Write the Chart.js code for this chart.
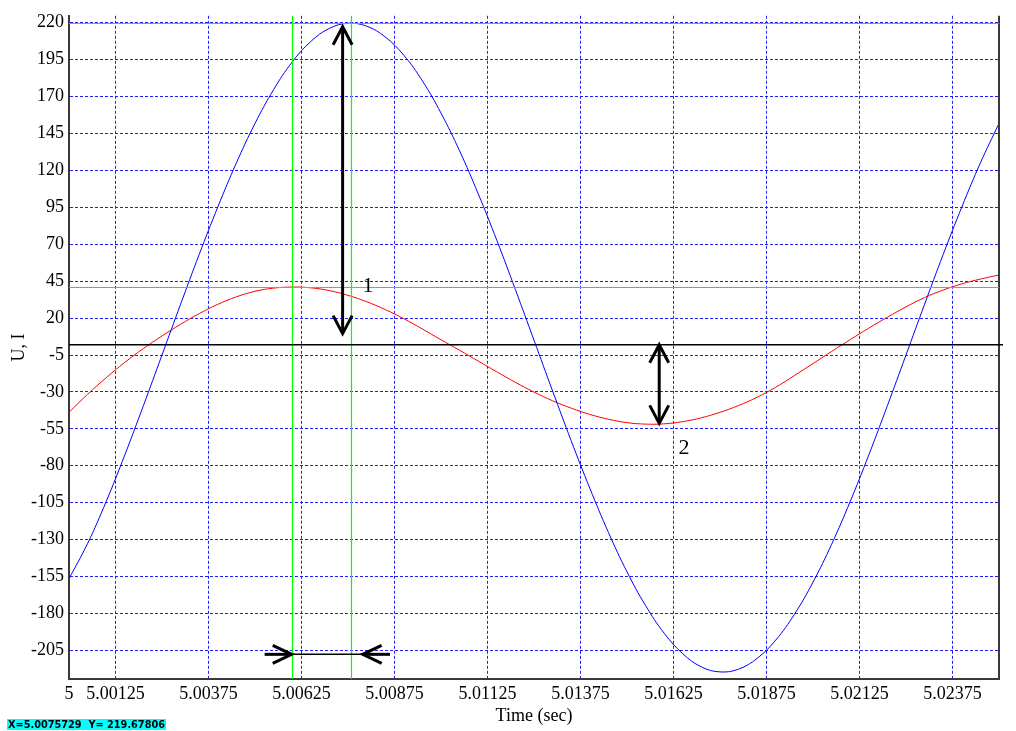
<!DOCTYPE html>
<html>
<head>
<meta charset="utf-8">
<title>U, I</title>
<script src="https://cdn.jsdelivr.net/npm/chart.js@4/dist/chart.umd.min.js"></script>
<style>
  html, body { margin: 0; padding: 0; background: #ffffff; }
  #wrap { position: relative; width: 1016px; height: 731px; }
</style>
</head>
<body>
<div id="wrap"><canvas id="chart" width="1016" height="731"></canvas></div>
<script>
// Sample instants (s)
const times = [
  5.0000, 5.0005, 5.0010, 5.0015, 5.0020, 5.0025, 5.0030, 5.0035, 5.0040, 5.0045,
  5.0050, 5.0055, 5.0060, 5.0065, 5.0070, 5.0075, 5.0080, 5.0085, 5.0090, 5.0095,
  5.0100, 5.0105, 5.0110, 5.0115, 5.0120, 5.0125, 5.0130, 5.0135, 5.0140, 5.0145,
  5.0150, 5.0155, 5.0160, 5.0165, 5.0170, 5.0175, 5.0180, 5.0185, 5.0190, 5.0195,
  5.0200, 5.0205, 5.0210, 5.0215, 5.0220, 5.0225, 5.0230, 5.0235, 5.0240, 5.0245,
  5.0250
];

// Voltage U (blue)
const voltage = [
  -156.5, -132.6, -104.2, -72.7, -39.3, -5.0, 29.4, 63.1, 95.2, 125.1,
  151.8, 174.7, 193.4, 207.3, 216.2, 219.6, 217.7, 210.4, 198.0, 180.6,
  158.8, 133.2, 104.2, 72.7, 39.3, 5.0, -29.4, -63.1, -95.2, -125.1,
  -151.8, -174.7, -193.4, -207.3, -216.2, -219.6, -217.7, -210.4, -198.0, -180.6,
  -158.8, -133.2, -104.2, -72.7, -39.3, -5.0, 29.4, 63.1, 95.2, 125.1,
  151.8
];

// Current I (red)
const current = [
  -43.8, -31.6, -20.4, -10.0, -0.6, 7.9, 15.8, 23.0, 29.3, 34.4,
  38.1, 40.3, 41.0, 40.5, 38.6, 35.4, 31.1, 25.8, 19.6, 12.6,
  5.3, -1.8, -9.1, -16.4, -23.5, -30.1, -36.0, -41.0, -45.2, -48.5,
  -50.8, -51.8, -51.6, -50.1, -47.5, -43.8, -39.2, -33.6, -26.8, -18.9,
  -10.8, -2.6, 5.4, 13.2, 20.6, 27.6, 33.9, 39.0, 43.2, 46.4,
  49.2
];

// Axis ticks
const xTickLabels = ['5', '5.00125', '5.00375', '5.00625', '5.00875', '5.01125',
                     '5.01375', '5.01625', '5.01875', '5.02125', '5.02375'];
const yTickValues = [220, 195, 170, 145, 120, 95, 70, 45, 20, -5, -30, -55,
                     -80, -105, -130, -155, -180, -205];

// Measurement cursors (green) and reference level (black)
const cursorTimes = [5.005987, 5.0075729];
const cursorLevels = [41.0, 219.67806];
const referenceLevel = 1.9;

// Annotation arrows: [time, from, to] and [level, from, to]
const voltageArrow = [5.007355, 217.3, 9.5];
const currentArrow = [5.015866, 1.9, -51.3];
const periodArrow = [-207.7, 5.005987, 5.007894];
const periodTails = [5.005259, 5.008630];

// Annotation labels: [text, time, level]
const marks = [['1', 5.008037, 41.7], ['2', 5.016532, -68.4]];

const readout = 'X=5.0075729  Y= 219.67806';

const SERIF = '"Liberation Serif", "Times New Roman", serif';

function arrowHead(ctx, tx, ty, dx, dy, len, half) {
  // (dx, dy): unit vector from the tip towards the shaft
  const px = -dy, py = dx;
  ctx.beginPath();
  ctx.moveTo(tx + dx * len + px * half, ty + dy * len + py * half);
  ctx.lineTo(tx, ty);
  ctx.lineTo(tx + dx * len - px * half, ty + dy * len - py * half);
  ctx.stroke();
}

const overlay = {
  id: 'overlay',
  afterDatasetsDraw(chart) {
    const { ctx, chartArea: a, scales: { x, y } } = chart;
    ctx.save();
    ctx.setLineDash([]);

    // right frame line
    ctx.strokeStyle = '#3a3a3a';
    ctx.lineWidth = 2;
    ctx.beginPath();
    ctx.moveTo(a.right, a.top);
    ctx.lineTo(a.right, a.bottom);
    ctx.stroke();

    // cursors
    ctx.strokeStyle = '#00ff00';
    ctx.lineWidth = 1.2;
    cursorTimes.forEach(t => {
      const px = Math.round(x.getPixelForValue(t)) + 0.5;
      ctx.beginPath(); ctx.moveTo(px, a.top); ctx.lineTo(px, a.bottom); ctx.stroke();
    });
    cursorLevels.forEach(v => {
      const py = Math.round(y.getPixelForValue(v)) + 0.5;
      ctx.beginPath(); ctx.moveTo(a.left, py); ctx.lineTo(a.right, py); ctx.stroke();
    });

    // reference level
    ctx.strokeStyle = '#000000';
    ctx.lineWidth = 1.5;
    const ry = y.getPixelForValue(referenceLevel);
    ctx.beginPath(); ctx.moveTo(a.left, ry); ctx.lineTo(a.right + 4, ry); ctx.stroke();

    // vertical double arrows
    ctx.lineWidth = 3;
    ctx.lineCap = 'butt';
    ctx.lineJoin = 'miter';
    [voltageArrow, currentArrow].forEach(([t, v1, v2]) => {
      const px = x.getPixelForValue(t);
      const y1 = y.getPixelForValue(v1), y2 = y.getPixelForValue(v2);
      ctx.beginPath(); ctx.moveTo(px, y1 + 2); ctx.lineTo(px, y2 - 2); ctx.stroke();
      arrowHead(ctx, px, y1, 0, 1, 18, 9.5);
      arrowHead(ctx, px, y2, 0, -1, 18, 9.5);
    });

    // horizontal arrows pointing inwards
    const hy = y.getPixelForValue(periodArrow[0]);
    const xa = x.getPixelForValue(periodArrow[1]);
    const xb = x.getPixelForValue(periodArrow[2]);
    const ta = x.getPixelForValue(periodTails[0]);
    const tb = x.getPixelForValue(periodTails[1]);
    ctx.lineWidth = 1.5;
    ctx.beginPath(); ctx.moveTo(xa, hy); ctx.lineTo(xb, hy); ctx.stroke();
    ctx.lineWidth = 3;
    ctx.beginPath(); ctx.moveTo(ta, hy); ctx.lineTo(xa - 2, hy); ctx.stroke();
    ctx.beginPath(); ctx.moveTo(tb, hy); ctx.lineTo(xb + 2, hy); ctx.stroke();
    arrowHead(ctx, xa, hy, -1, 0, 19, 9);
    arrowHead(ctx, xb, hy, 1, 0, 19, 9);

    // labels
    ctx.fillStyle = '#000000';
    ctx.font = '22px ' + SERIF;
    ctx.textAlign = 'center';
    ctx.textBaseline = 'middle';
    marks.forEach(([txt, t, v]) => {
      ctx.fillText(txt, x.getPixelForValue(t), y.getPixelForValue(v));
    });
    ctx.restore();
  },
  afterDraw(chart) {
    const { ctx, chartArea: a } = chart;
    ctx.save();
    ctx.fillStyle = '#000000';
    ctx.font = '18px ' + SERIF;
    ctx.textAlign = 'center';
    ctx.textBaseline = 'middle';
    ctx.fillText('Time (sec)', (a.left + a.right) / 2, 716);
    ctx.translate(19, (a.top + a.bottom) / 2);
    ctx.rotate(-Math.PI / 2);
    ctx.fillText('U, I', 0, 0);
    ctx.restore();

    // cursor readout
    ctx.save();
    ctx.fillStyle = '#00ffff';
    ctx.fillRect(7, 719, 159, 11);
    ctx.font = 'bold 10px "DejaVu Sans", sans-serif';
    ctx.fillStyle = '#000000';
    ctx.textBaseline = 'middle';
    ctx.textAlign = 'left';
    ctx.fillText(readout, 8, 725, 157);
    ctx.restore();
  }
};

new Chart(document.getElementById('chart'), {
  type: 'line',
  data: {
    datasets: [
      {
        label: 'U',
        data: times.map((t, i) => ({ x: t, y: voltage[i] })),
        borderColor: '#0000ff',
        borderWidth: 1,
        pointRadius: 0,
        tension: 0.4,
        fill: false
      },
      {
        label: 'I',
        data: times.map((t, i) => ({ x: t, y: current[i] })),
        borderColor: '#ff0000',
        borderWidth: 1,
        pointRadius: 0,
        tension: 0.4,
        fill: false
      }
    ]
  },
  options: {
    responsive: false,
    animation: false,
    devicePixelRatio: 1,
    layout: { padding: { top: 14, right: 17, left: 0, bottom: 0 } },
    plugins: { legend: { display: false }, tooltip: { enabled: false } },
    scales: {
      x: {
        type: 'linear',
        min: 5,
        max: 5.025,
        afterFit: s => { s.height = 52; },
        afterBuildTicks: s => { s.ticks = xTickLabels.map(l => ({ value: Number(l) })); },
        ticks: {
          autoSkip: false,
          maxRotation: 0,
          padding: 4,
          color: '#000000',
          font: { family: SERIF, size: 18 },
          callback: (v, i) => xTickLabels[i]
        },
        grid: { color: '#1e1eff', lineWidth: 1, drawTicks: false },
        border: { display: true, color: '#3a3a3a', width: 2, dash: [3, 2] }
      },
      y: {
        type: 'linear',
        min: -224.4,
        max: 224.7,
        afterFit: s => { s.width = 69; },
        afterBuildTicks: s => { s.ticks = yTickValues.map(v => ({ value: v })); },
        ticks: {
          padding: 5,
          color: '#000000',
          font: { family: SERIF, size: 18 },
          callback: v => String(v)
        },
        grid: { color: '#1e1eff', lineWidth: 1, drawTicks: false },
        border: { display: true, color: '#3a3a3a', width: 2, dash: [3, 2] }
      }
    }
  },
  plugins: [overlay]
});
</script>
</body>
</html>
